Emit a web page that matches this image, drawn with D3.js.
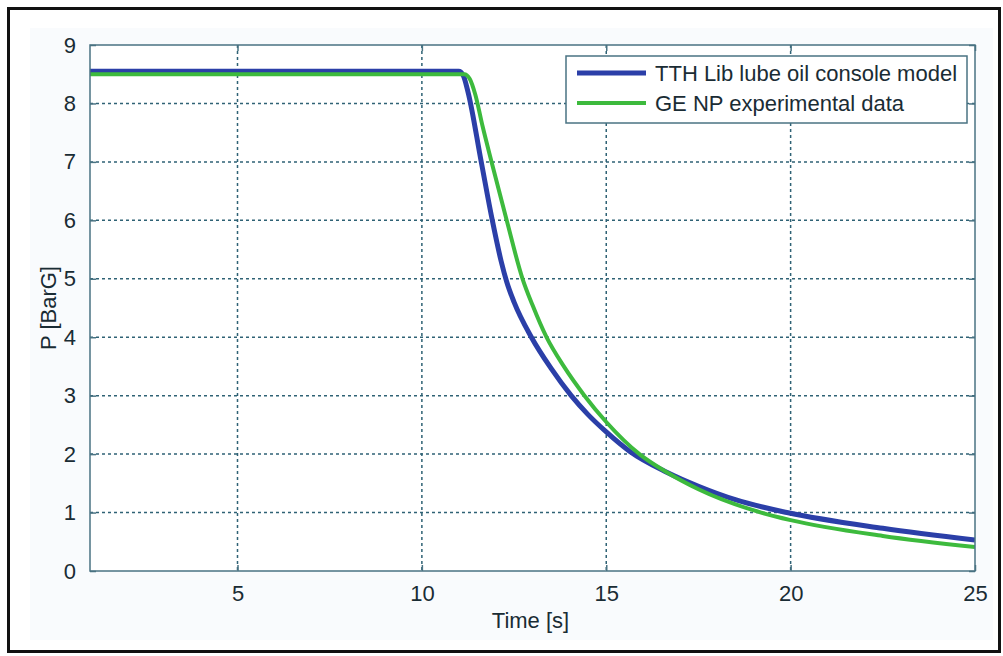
<!DOCTYPE html>
<html>
<head>
<meta charset="utf-8">
<script src="https://cdn.jsdelivr.net/npm/d3@7"></script>
<style>
  html, body { margin: 0; padding: 0; background: #ffffff; }
  svg { display: block; }
  text { font-family: "Liberation Sans", Arial, sans-serif; }
</style>
</head>
<body>
<svg id="chart" width="1003" height="656"></svg>
<script>
// Lube oil console pressure decay: simulation vs. measured data
const modelTime     = [1, 11.0, 11.12, 11.25, 11.61, 11.91, 12.15, 12.3, 12.5, 12.97, 13.5, 14.05, 14.5, 15.0, 15.63, 16.64, 17.5, 18.5, 19.9, 22.5, 25];
const modelPressure = [8.55, 8.55, 8.48, 8.2, 7.0, 6.0, 5.3, 4.95, 4.6, 4.0, 3.47, 3.0, 2.68, 2.38, 2.05, 1.69, 1.45, 1.22, 1.0, 0.73, 0.53];

const expTime     = [1, 11.15, 11.3, 11.45, 11.65, 11.89, 12.3, 12.73, 13.0, 13.38, 13.85, 14.41, 15.0, 15.9, 16.64, 17.5, 19.2, 20, 22.5, 25];
const expPressure = [8.5, 8.5, 8.42, 8.15, 7.6, 7.0, 6.0, 5.0, 4.55, 4.0, 3.5, 3.0, 2.55, 2.0, 1.69, 1.4, 1.0, 0.87, 0.6, 0.41];

const xTicks = [5, 10, 15, 20, 25];
const yTicks = [0, 1, 2, 3, 4, 5, 6, 7, 8, 9];

const seriesNames  = ["TTH Lib lube oil console model", "GE NP experimental data"];
const seriesColors = ["#2b3fa8", "#3dba3d"];

const svg = d3.select("#chart");

// figure background and outer frame
svg.append("rect").attr("x", 30).attr("y", 28).attr("width", 963).attr("height", 612)
  .attr("fill", "#f9fbfd");
svg.append("rect").attr("x", 8.5).attr("y", 8.5).attr("width", 991).attr("height", 643)
  .attr("fill", "none").attr("stroke", "#111").attr("stroke-width", 3);

const m = { left: 90, right: 975, top: 45, bottom: 571 };
const x = d3.scaleLinear().domain([1, 25]).range([m.left, m.right]);
const y = d3.scaleLinear().domain([0, 9]).range([m.bottom, m.top]);

// plot area
svg.append("rect").attr("x", m.left).attr("y", m.top)
  .attr("width", m.right - m.left).attr("height", m.bottom - m.top)
  .attr("fill", "#ffffff");

const gridColor = "#2f6275";
const axisColor = "#4a7383";
const textColor = "#1a2c34";

// dotted grid
svg.append("g").selectAll("line").data(xTicks.filter(d => d < 25)).join("line")
  .attr("x1", d => x(d)).attr("x2", d => x(d))
  .attr("y1", m.top).attr("y2", m.bottom)
  .attr("stroke", gridColor).attr("stroke-width", 1.5).attr("stroke-dasharray", "3,3");
svg.append("g").selectAll("line").data(yTicks.filter(d => d > 0 && d < 9)).join("line")
  .attr("x1", m.left).attr("x2", m.right)
  .attr("y1", d => y(d)).attr("y2", d => y(d))
  .attr("stroke", gridColor).attr("stroke-width", 1.5).attr("stroke-dasharray", "3,3");

// axes with inward ticks on all four sides
const axisB = d3.axisBottom(x).tickValues(xTicks).tickSize(-6).tickPadding(14).tickFormat(d3.format("d"));
const axisT = d3.axisTop(x).tickValues(xTicks).tickSize(-6).tickFormat("");
const axisL = d3.axisLeft(y).tickValues(yTicks).tickSize(-6).tickPadding(14).tickFormat(d3.format("d"));
const axisR = d3.axisRight(y).tickValues(yTicks).tickSize(-6).tickFormat("");

function styleAxis(g) {
  g.select(".domain").remove();
  g.selectAll(".tick line").attr("stroke", axisColor).attr("stroke-width", 1.5);
  g.selectAll(".tick text").attr("fill", textColor).attr("font-size", 22);
}
svg.append("g").attr("transform", `translate(0,${m.bottom})`).call(axisB).call(styleAxis);
svg.append("g").attr("transform", `translate(0,${m.top})`).call(axisT).call(styleAxis);
svg.append("g").attr("transform", `translate(${m.left},0)`).call(axisL).call(styleAxis);
svg.append("g").attr("transform", `translate(${m.right},0)`).call(axisR).call(styleAxis);

// series
const lineGen = d3.line().x(d => x(d[0])).y(d => y(d[1])).curve(d3.curveMonotoneX);
const modelData = d3.zip(modelTime, modelPressure);
const expData = d3.zip(expTime, expPressure);

svg.append("clipPath").attr("id", "plotclip").append("rect")
  .attr("x", m.left).attr("y", m.top).attr("width", m.right - m.left).attr("height", m.bottom - m.top);

svg.append("path").datum(modelData).attr("d", lineGen)
  .attr("fill", "none").attr("stroke", seriesColors[0]).attr("stroke-width", 5)
  .attr("stroke-linejoin", "round").attr("clip-path", "url(#plotclip)");
svg.append("path").datum(expData).attr("d", lineGen)
  .attr("fill", "none").attr("stroke", seriesColors[1]).attr("stroke-width", 4)
  .attr("stroke-linejoin", "round").attr("clip-path", "url(#plotclip)");

// plot box
svg.append("rect").attr("x", m.left).attr("y", m.top)
  .attr("width", m.right - m.left).attr("height", m.bottom - m.top)
  .attr("fill", "none").attr("stroke", axisColor).attr("stroke-width", 1.5);

// axis titles
svg.append("text").attr("x", (m.left + m.right) / 2 - 2).attr("y", 628)
  .attr("text-anchor", "middle").attr("font-size", 22).attr("fill", textColor).text("Time [s]");
svg.append("text").attr("transform", `translate(56,${(m.top + m.bottom) / 2}) rotate(-90)`)
  .attr("text-anchor", "middle").attr("font-size", 22).attr("fill", textColor).text("P [BarG]");

// legend
const lg = svg.append("g");
lg.append("rect").attr("x", 566).attr("y", 56).attr("width", 401).attr("height", 67)
  .attr("fill", "#ffffff").attr("stroke", axisColor).attr("stroke-width", 1.5);
seriesNames.forEach((name, i) => {
  const cy = 73 + i * 30;
  lg.append("line").attr("x1", 577).attr("x2", 646).attr("y1", cy).attr("y2", cy)
    .attr("stroke", seriesColors[i]).attr("stroke-width", i === 0 ? 5 : 4);
  lg.append("text").attr("x", 655).attr("y", cy + 8).attr("font-size", 22)
    .attr("fill", textColor).text(name);
});
</script>
</body>
</html>
